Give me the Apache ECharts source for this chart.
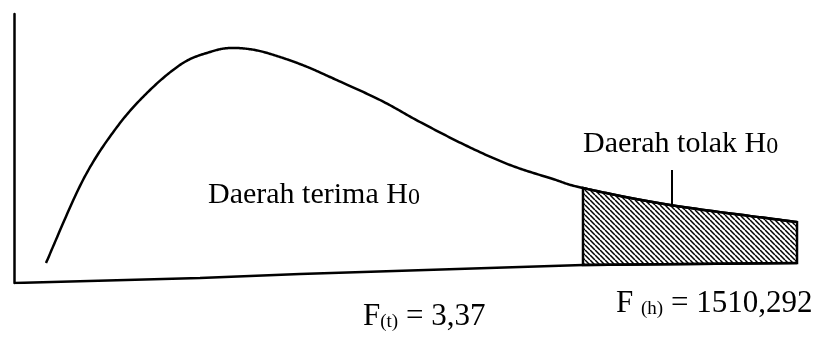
<!DOCTYPE html>
<html>
<head>
<meta charset="utf-8">
<script src="https://cdn.jsdelivr.net/npm/echarts@6/dist/echarts.min.js"></script>
<style>
  html, body { margin: 0; padding: 0; background: #fff; }
  #chart { width: 821px; height: 338px; }
</style>
</head>
<body>
<div id="chart"></div>
<script>
// Density curve of the F distribution (horizontal position, height above the frame bottom)
const curveX = [32, 69, 103, 136, 169, 196, 216, 241, 266, 291, 316, 366, 406, 453, 496, 539, 569, 656, 783];
const curveY = [20, 103, 156, 193, 220, 231, 235, 233, 226, 217, 206, 183, 161, 137, 118, 104, 95, 78, 61];

// Bottom line of the frame
const baseX = [1, 186, 286, 569, 783];
const baseY = [0, 5, 9, 18, 20];

// Rejection region bounds (F table value up to the calculated F)
const rejectFrom = 569;
const rejectTo = 783;

// Leader line from the rejection label down to the shaded area
const pointerX = [658, 658];
const pointerY = [78, 113];

// Labels
const acceptLabel = ['Daerah terima H', '0'];
const rejectLabel = ['Daerah tolak H', '0'];
const fTable = ['F', '(t)', ' = 3,37'];
const fCalc = ['F ', '(h)', ' = 1510,292'];

const SERIF = '"Liberation Serif", "Times New Roman", serif';

function pairs(xs, ys) { return xs.map((x, i) => [x, ys[i]]); }

// Diagonal hatch tile for the rejection area
function hatchTile() {
  const w = 5;
  const c = document.createElement('canvas');
  c.width = w; c.height = w;
  const g = c.getContext('2d');
  g.fillStyle = '#fff';
  g.fillRect(0, 0, w, w);
  g.strokeStyle = '#000';
  g.lineWidth = 1.5;
  g.beginPath();
  for (const o of [-w, 0, w]) {
    g.moveTo(o, 0);
    g.lineTo(o + w, w);
  }
  g.stroke();
  return c;
}
const hatch = hatchTile();

// Catmull-Rom spline through projected points; returns a dense polyline
// plus, for every knot, the index where it lands in that polyline.
function spline(pts, steps) {
  const out = [pts[0]];
  const knotAt = [0];
  for (let i = 0; i < pts.length - 1; i++) {
    const p0 = pts[Math.max(i - 1, 0)], p1 = pts[i], p2 = pts[i + 1], p3 = pts[Math.min(i + 2, pts.length - 1)];
    const c1 = [p1[0] + (p2[0] - p0[0]) / 6, p1[1] + (p2[1] - p0[1]) / 6];
    const c2 = [p2[0] - (p3[0] - p1[0]) / 6, p2[1] - (p3[1] - p1[1]) / 6];
    for (let s = 1; s <= steps; s++) {
      const t = s / steps, u = 1 - t;
      const a = u * u * u, b = 3 * u * u * t, c = 3 * u * t * t, d = t * t * t;
      out.push([
        a * p1[0] + b * c1[0] + c * c2[0] + d * p2[0],
        a * p1[1] + b * c1[1] + c * c2[1] + d * p2[1]
      ]);
    }
    knotAt.push(out.length - 1);
  }
  return { out, knotAt };
}

function richLabel(parts) {
  return parts.length === 2
    ? `{m|${parts[0]}}{s|${parts[1]}}`
    : `{m|${parts[0]}}{s|${parts[1]}}{m|${parts[2]}}`;
}
function richStyle(size, subSize) {
  return {
    m: { fontFamily: SERIF, fontSize: size, lineHeight: 30, verticalAlign: 'middle', fill: '#000' },
    s: { fontFamily: SERIF, fontSize: subSize, lineHeight: subSize, verticalAlign: 'bottom', fill: '#000' }
  };
}

const chart = echarts.init(document.getElementById('chart'), null, { renderer: 'canvas' });

chart.setOption({
  backgroundColor: '#fff',
  animation: false,
  grid: { left: 14, top: 14, width: 786, height: 269 },
  xAxis: {
    type: 'value', min: 0, max: 786,
    show: false
  },
  yAxis: {
    type: 'value', min: 0, max: 269,
    axisLine: { show: true, lineStyle: { color: '#000', width: 2.5 } },
    axisTick: { show: false },
    axisLabel: { show: false },
    splitLine: { show: false }
  },
  series: [
    {
      type: 'custom',
      name: 'density',
      data: [[curveX[0], curveY[0]]],
      z: 3,
      renderItem(params, api) {
        const knots = curveX.map((x, i) => api.coord([x, curveY[i]]));
        const { out, knotAt } = spline(knots, 24);
        const i0 = curveX.indexOf(rejectFrom);
        const i1 = curveX.indexOf(rejectTo);
        const top = out.slice(knotAt[i0], knotAt[i1] + 1);
        const bottom = [];
        for (let i = baseX.length - 1; i >= 0; i--) {
          if (baseX[i] >= rejectFrom && baseX[i] <= rejectTo) bottom.push(api.coord([baseX[i], baseY[i]]));
        }
        return {
          type: 'group',
          children: [
            {
              type: 'polygon',
              shape: { points: top.concat(bottom) },
              style: { fill: { image: hatch, repeat: 'repeat' }, stroke: '#000', lineWidth: 2.5 }
            },
            {
              type: 'polyline',
              shape: { points: out },
              style: { fill: null, stroke: '#000', lineWidth: 2.5, lineJoin: 'round' }
            }
          ]
        };
      }
    },
    {
      type: 'line',
      name: 'base',
      data: pairs(baseX, baseY),
      showSymbol: false,
      z: 3,
      lineStyle: { color: '#000', width: 2.5 }
    },
    {
      type: 'line',
      name: 'pointer',
      data: pairs(pointerX, pointerY),
      showSymbol: false,
      z: 3,
      lineStyle: { color: '#000', width: 2 }
    }
  ],
  graphic: [
    {
      type: 'text', left: 208, top: 180,
      style: { text: richLabel(acceptLabel), rich: richStyle(30, 24) }
    },
    {
      type: 'text', left: 583, top: 129,
      style: { text: richLabel(rejectLabel), rich: richStyle(30, 24) }
    },
    {
      type: 'text', left: 363, top: 301,
      style: { text: richLabel(fTable), rich: richStyle(31, 19) }
    },
    {
      type: 'text', left: 616, top: 288,
      style: { text: richLabel(fCalc), rich: richStyle(31, 19) }
    }
  ]
});
</script>
</body>
</html>
